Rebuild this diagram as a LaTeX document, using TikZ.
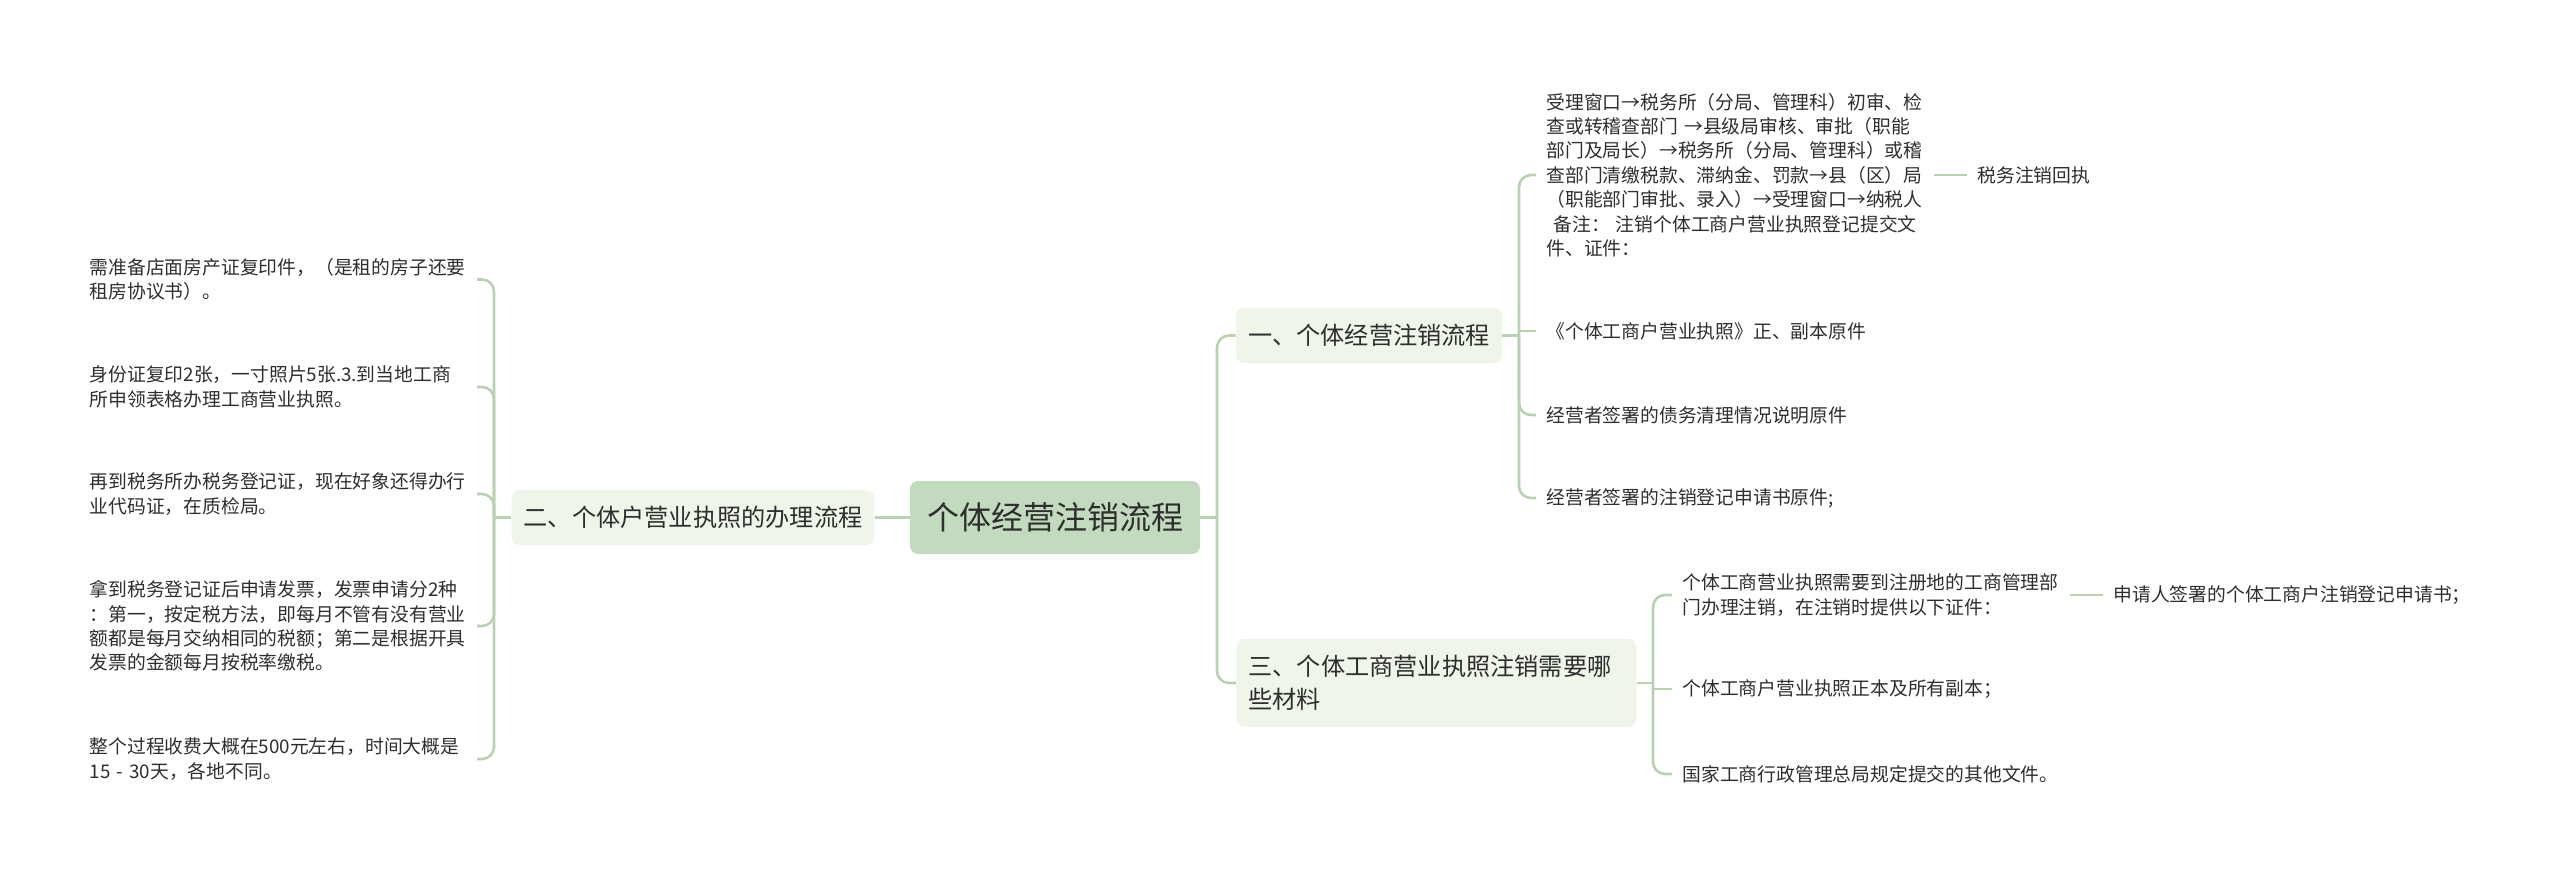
\documentclass[tikz,border=0pt]{standalone}
\usepackage{fontspec}
\setmainfont{Noto Sans CJK SC}
\usepackage{xcolor}

\definecolor{linegreen}{HTML}{B8D2B1}
\definecolor{rootfill}{HTML}{C2DABD}
\definecolor{subfill}{HTML}{EFF5E9}
\definecolor{inkgray}{HTML}{2E2E2E}

\begin{document}
\begin{tikzpicture}[x=0.5pt,y=-0.5pt,
    link/.style={draw=linegreen,line width=1.3pt,rounded corners=6pt},
    rootbox/.style={fill=rootfill,rounded corners=4pt,minimum width=145pt,minimum height=36.5pt,inner sep=0pt,text=inkgray,font=\fontsize{16pt}{19pt}\selectfont},
    subbox/.style={fill=subfill,rounded corners=4pt,inner xsep=6pt,inner ysep=0pt,minimum height=27.5pt,text=inkgray,font=\fontsize{12.1pt}{16.5pt}\selectfont},
    leaf/.style={inner xsep=5pt,inner ysep=2pt,align=left,text=inkgray,font=\fontsize{9.4pt}{12.2pt}\selectfont},
    wide/.style={text width=188.5pt}]
    \useasboundingbox (0,0) rectangle (2560,875);

    % centre and branches
    \node[rootbox] (root) at (1055,517.5) {个体经营注销流程};
    \node[subbox] (b2) at (693,517.5) {二、个体户营业执照的办理流程};
    \node[subbox] (b1) at (1369,335.5) {一、个体经营注销流程};
    \node[subbox,align=left,text width=188pt,minimum height=44pt,anchor=west] (b3) at (1236,683)
        {三、个体工商营业执照注销需要哪\\些材料};

    \coordinate (t0) at (1217,517.5);
    \coordinate (tl) at (494,517.5);
    \coordinate (t1) at (1519,335.5);
    \coordinate (t3) at (1653,683);

    \draw[link] (root.west) -- (b2.east);
    \draw[link] (root.east) -- (t0);
    \draw[link] (t0) |- (b1.west);
    \draw[link] (t0) |- (b3.west);

    % left side
    \foreach \n/\y/\txt in {
        1/279.5/{需准备店面房产证复印件，（是租的房子还要\\租房协议书）。},
        2/387/{身份证复印2张，一寸照片5张.3.到当地工商\\所申领表格办理工商营业执照。},
        3/494/{再到税务所办税务登记证，现在好象还得办行\\业代码证，在质检局。},
        4/626/{拿到税务登记证后申请发票，发票申请分2种\\：第一，按定税方法，即每月不管有没有营业\\额都是每月交纳相同的税额；第二是根据开具\\发票的金额每月按税率缴税。},
        5/759/{整个过程收费大概在500元左右，时间大概是\\15 - 30天，各地不同。}}{
        \node[leaf,wide,anchor=east] (l\n) at (477,\y) {\txt};
    }
    \draw[link] (b2.west) -- (tl);
    \foreach \n in {1,...,5}
        \draw[link] (tl) |- (l\n.east);

    % right side, first branch
    \node[leaf,wide,anchor=west] (r1) at (1536,175) {受理窗口→税务所（分局、管理科）初审、检\\查或转稽查部门 →县级局审核、审批（职能\\部门及局长）→税务所（分局、管理科）或稽\\查部门清缴税款、滞纳金、罚款→县（区）局\\（职能部门审批、录入）→受理窗口→纳税人\\\hspace*{0.4em}备注：\hspace{0.3em}注销个体工商户营业执照登记提交文\\件、证件：};
    \node[leaf,anchor=west] (r1x) at (1967,175) {税务注销回执};
    \node[leaf,anchor=west] (r2) at (1536,331) {《个体工商户营业执照》正、副本原件};
    \node[leaf,anchor=west] (r3) at (1536,415) {经营者签署的债务清理情况说明原件};
    \node[leaf,anchor=west] (r4) at (1536,498) {经营者签署的注销登记申请书原件;};

    \draw[link] (b1.east) -- (t1);
    \foreach \n in {1,3,4}
        \draw[link] (t1) |- (r\n.west);
    \draw[link,sharp corners] (t1) |- (r2.west);
    \draw[link] (r1.east) -- (r1x.west);

    % right side, third branch
    \node[leaf,wide,anchor=west] (s1) at (1672,595) {个体工商营业执照需要到注册地的工商管理部\\门办理注销，在注销时提供以下证件：};
    \node[leaf,anchor=west] (s1x) at (2103,595) {申请人签署的个体工商户注销登记申请书；};
    \node[leaf,anchor=west] (s2) at (1672,689) {个体工商户营业执照正本及所有副本；};
    \node[leaf,anchor=west] (s3) at (1672,774) {国家工商行政管理总局规定提交的其他文件。};

    \draw[link] (b3.east) -- (t3);
    \draw[link] (t3) |- (s1.west);
    \draw[link,sharp corners] (t3) |- (s2.west);
    \draw[link] (t3) |- (s3.west);
    \draw[link] (s1.east) -- (s1x.west);
\end{tikzpicture}
\end{document}
